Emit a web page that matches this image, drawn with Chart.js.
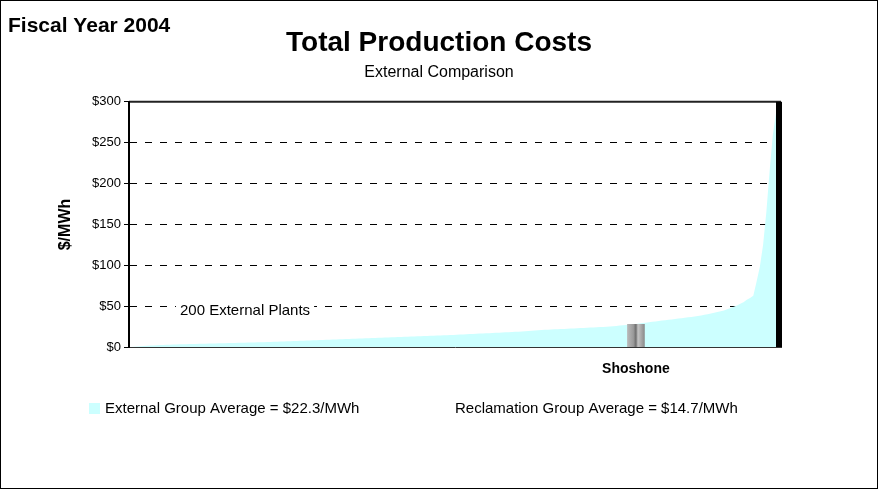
<!DOCTYPE html>
<html>
<head>
<meta charset="utf-8">
<script src="https://cdn.jsdelivr.net/npm/chart.js@4"></script>
<style>
  html, body { margin: 0; padding: 0; background: #fff; }
  #wrap { width: 878px; height: 489px; }
</style>
</head>
<body>
<div id="wrap"><canvas id="cost-chart" width="878" height="489"></canvas></div>
<script>
// === DATA ===
// 200 external plants, sorted by total production cost ($/MWh)
const plantCosts = [
  0.3, 0.6, 0.9, 1.2, 1.5, 1.8, 2.0, 2.2, 2.4, 2.6, 2.8, 3.0, 3.1, 3.3, 3.4, 3.5, 3.6, 3.7, 3.8, 3.9,
  4.0, 4.1, 4.2, 4.3, 4.4, 4.5, 4.6, 4.7, 4.8, 4.9, 5.0, 5.1, 5.2, 5.3, 5.4, 5.5, 5.6, 5.7, 5.8, 5.9,
  6.0, 6.2, 6.4, 6.5, 6.7, 6.8, 7.0, 7.1, 7.3, 7.4, 7.6, 7.7, 7.9, 8.0, 8.2, 8.3, 8.5, 8.6, 8.8, 8.9,
  9.1, 9.2, 9.4, 9.5, 9.7, 9.8, 10.0, 10.1, 10.3, 10.4, 10.6, 10.7, 10.9, 11.0, 11.2, 11.3, 11.5, 11.6, 11.8, 11.9,
  12.1, 12.2, 12.4, 12.5, 12.7, 12.8, 13.0, 13.1, 13.3, 13.4, 13.6, 13.7, 13.9, 14.0, 14.2, 14.3, 14.5, 14.6, 14.8, 15.0,
  15.2, 15.4, 15.6, 15.8, 16.0, 16.2, 16.4, 16.6, 16.8, 17.0, 17.2, 17.4, 17.6, 17.8, 18.0, 18.2, 18.4, 18.6, 18.8, 19.0,
  19.3, 19.6, 19.9, 20.2, 20.5, 20.8, 21.0, 21.2, 21.4, 21.6, 21.8, 22.0, 22.2, 22.4, 22.6, 22.8, 23.0, 23.2, 23.4, 23.6,
  23.8, 24.0, 24.2, 24.4, 24.6, 24.8, 25.1, 25.4, 25.7, 26.0, 26.4, 26.8, 27.2, 27.6, 28.0, 28.5, 29.0, 29.5, 30.0, 30.5,
  31.0, 31.5, 32.0, 32.5, 33.0, 33.5, 34.0, 34.5, 35.0, 35.5, 36.0, 36.5, 37.0, 37.5, 38.0, 38.8, 39.6, 40.4, 41.2, 42.0,
  43.0, 44.0, 45.0, 46.5, 48.0, 49.5, 51.0, 53.0, 55.0, 58.0, 60.0, 63.0, 80.0, 98.0, 125.0, 165.0, 215.0, 260.0, 287.0, 297.0
];

// Shoshone (Reclamation plant) placed in the ranking
const shoshoneName = "Shoshone";
const shoshoneIndex = 155;
const shoshoneCost = 28;

const yMin = 0;
const yMax = 300;
const yStep = 50;

const legendTexts = [
  "External Group Average = $22.3/MWh",
  "Reclamation Group Average = $14.7/MWh"
];
const plantsNote = "200 External Plants";
const fiscalYear = "Fiscal Year 2004";

const FONT = "'Liberation Sans', Arial, Helvetica, sans-serif";
const CYAN = "#CCFFFF";

// labels: kosong semua kecuali Shoshone
const plantLabels = plantCosts.map((_, i) => (i === shoshoneIndex ? shoshoneName : ""));
const shoshoneData = plantCosts.map((_, i) => (i === shoshoneIndex ? shoshoneCost : null));

// === PLUGIN: frame, teks tambahan, legend manual ===
const extrasPlugin = {
  id: "extras",
  beforeDraw(chart) {
    const { ctx, width, height } = chart;
    ctx.save();
    ctx.fillStyle = "#fff";
    ctx.fillRect(0, 0, width, height);
    ctx.restore();
  },
  afterDatasetsDraw(chart) {
    const { ctx, chartArea: a } = chart;
    ctx.save();
    // top border
    ctx.strokeStyle = "#222";
    ctx.lineWidth = 2;
    ctx.beginPath();
    ctx.moveTo(a.left, a.top);
    ctx.lineTo(a.right, a.top);
    ctx.stroke();
    // right thick border
    ctx.fillStyle = "#000";
    ctx.fillRect(a.right - 5, a.top, 6, a.bottom - a.top);

    // "200 External Plants" note on white
    ctx.font = "15px " + FONT;
    const noteX = 180;
    const noteY = chart.scales.y.getPixelForValue(50) + 5;
    const w = ctx.measureText(plantsNote).width;
    ctx.fillStyle = "#fff";
    ctx.fillRect(noteX - 4, noteY - 9, w + 8, 18);
    ctx.fillStyle = "#000";
    ctx.textBaseline = "middle";
    ctx.fillText(plantsNote, noteX, noteY);
    ctx.restore();
  },
  afterDraw(chart) {
    const { ctx, width, height } = chart;
    ctx.save();
    // fiscal year
    ctx.fillStyle = "#000";
    ctx.font = "bold 21px " + FONT;
    ctx.textBaseline = "middle";
    ctx.fillText(fiscalYear, 8, 26);

    // legend
    ctx.fillStyle = CYAN;
    ctx.fillRect(89, 403, 11, 11);
    ctx.fillStyle = "#000";
    ctx.font = "15px " + FONT;
    ctx.fillText(legendTexts[0], 105, 409);
    ctx.fillText(legendTexts[1], 455, 409);

    // outer frame
    ctx.strokeStyle = "#000";
    ctx.lineWidth = 1;
    ctx.strokeRect(0.5, 0.5, width - 1, height - 1);
    ctx.restore();
  }
};

const ctx = document.getElementById("cost-chart").getContext("2d");

new Chart(ctx, {
  data: {
    labels: plantLabels,
    datasets: [
      {
        type: "bar",
        label: shoshoneName,
        data: shoshoneData,
        barThickness: 17,
        backgroundColor: (c) => {
          const chart = c.chart;
          const xs = chart.scales && chart.scales.x;
          if (!xs || !chart.chartArea) return "#a8a8a8";
          const cx = xs.getPixelForValue(shoshoneIndex);
          const g = chart.ctx.createLinearGradient(cx - 8.5, 0, cx + 8.5, 0);
          g.addColorStop(0, "#b8b8b8");
          g.addColorStop(0.35, "#9a9a9a");
          g.addColorStop(0.5, "#6e6e6e");
          g.addColorStop(0.62, "#c4c4c4");
          g.addColorStop(1, "#8c8c8c");
          return g;
        },
        borderWidth: 0,
        order: 0
      },
      {
        type: "line",
        label: "External Plants",
        data: plantCosts,
        fill: "origin",
        backgroundColor: CYAN,
        borderColor: "rgba(0,0,0,0)",
        borderWidth: 0,
        pointRadius: 0,
        tension: 0,
        order: 1
      }
    ]
  },
  options: {
    responsive: false,
    animation: false,
    layout: { padding: { left: 10, right: 10, top: 10, bottom: 97 } },
    plugins: {
      legend: { display: false },
      tooltip: { enabled: false },
      title: {
        display: true,
        text: "Total Production Costs",
        color: "#000",
        font: { family: FONT, size: 28, weight: "bold" },
        padding: { top: 16, bottom: 3 }
      },
      subtitle: {
        display: true,
        text: "External Comparison",
        color: "#000",
        font: { family: FONT, size: 16, weight: "normal" },
        padding: { top: 0, bottom: 20 }
      }
    },
    scales: {
      x: {
        type: "category",
        offset: true,
        grid: { display: false, drawTicks: false },
        border: { display: true, color: "#333", width: 1, z: 1 },
        ticks: {
          autoSkip: false,
          maxRotation: 0,
          minRotation: 0,
          padding: 14,
          color: "#000",
          font: { family: FONT, size: 14, weight: "bold" }
        }
      },
      y: {
        min: yMin,
        max: yMax,
        afterFit(scale) { scale.width = 119; },
        ticks: {
          stepSize: yStep,
          padding: 3,
          color: "#000",
          font: { family: FONT, size: 13 },
          callback: (v) => "$" + v
        },
        grid: {
          color: (c) => (c.tick && (c.tick.value === yMin || c.tick.value === yMax) ? "rgba(0,0,0,0)" : "#000"),
          lineWidth: 1,
          tickColor: "#000",
          tickLength: 5
        },
        border: { display: true, color: "#000", width: 2, dash: [7, 8], z: 1 },
        title: {
          display: true,
          text: "$/MWh",
          color: "#000",
          font: { family: FONT, size: 16, weight: "bold" },
          padding: { top: 46, bottom: 0 }
        }
      },
      yRight: {
        position: "right",
        display: true,
        afterFit(scale) { scale.width = 87; },
        grid: { display: false, drawTicks: false },
        border: { display: false },
        ticks: { display: false }
      }
    }
  },
  plugins: [extrasPlugin]
});
</script>
</body>
</html>
